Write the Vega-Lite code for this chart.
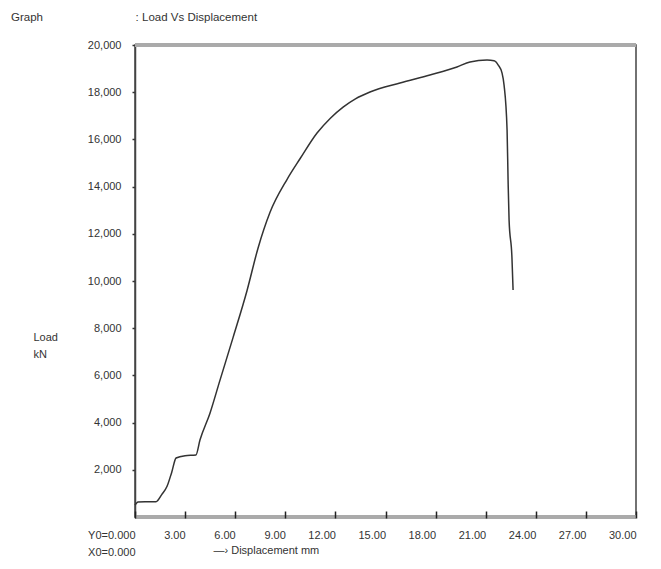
{
  "$schema": "https://vega.github.io/schema/vega-lite/v6.json",
  "autosize": "none",
  "width": 501,
  "height": 472,
  "padding": {"left": 135, "top": 45, "right": 25, "bottom": 52},
  "background": "white",
  "title": {
    "text": "Graph\u00a0\u00a0\u00a0\u00a0\u00a0\u00a0\u00a0\u00a0\u00a0\u00a0\u00a0\u00a0\u00a0\u00a0\u00a0\u00a0\u00a0\u00a0\u00a0\u00a0\u00a0\u00a0\u00a0\u00a0\u00a0\u00a0\u00a0\u00a0\u00a0: Load Vs Displacement",
    "anchor": "start",
    "frame": "group",
    "dx": -124,
    "offset": 16,
    "font": "Liberation Sans, sans-serif",
    "fontSize": 11.5,
    "fontWeight": "normal",
    "color": "#333"
  },
  "config": {
    "view": {"stroke": "#444", "strokeWidth": 1.5},
    "font": "Liberation Sans, sans-serif",
    "axis": {"grid": false, "labelFontSize": 11, "labelColor": "#333", "titleColor": "#333", "titleFontWeight": "normal", "titleFontSize": 11}
  },
  "data": {
    "values": [
      {"d": 0.0, "load": 500},
      {"d": 0.18, "load": 640},
      {"d": 0.6, "load": 650},
      {"d": 1.26, "load": 650},
      {"d": 1.6, "load": 950},
      {"d": 1.92, "load": 1300},
      {"d": 2.2, "load": 1900},
      {"d": 2.46, "load": 2500},
      {"d": 3.0, "load": 2600},
      {"d": 3.65, "load": 2630},
      {"d": 3.89, "load": 3260},
      {"d": 4.49, "load": 4400},
      {"d": 5.09, "load": 5800},
      {"d": 5.87, "load": 7600},
      {"d": 6.71, "load": 9600},
      {"d": 7.37, "load": 11400},
      {"d": 8.08, "load": 12900},
      {"d": 9.1, "load": 14300},
      {"d": 9.9, "load": 15200},
      {"d": 10.9, "load": 16270},
      {"d": 11.7, "load": 16900},
      {"d": 12.46, "load": 17370},
      {"d": 13.2, "load": 17720},
      {"d": 14.07, "load": 18010},
      {"d": 15.87, "load": 18390},
      {"d": 17.66, "load": 18730},
      {"d": 19.28, "load": 19070},
      {"d": 20.06, "load": 19280},
      {"d": 21.08, "load": 19360},
      {"d": 21.5, "load": 19330},
      {"d": 21.75, "load": 19150},
      {"d": 21.98, "load": 18810},
      {"d": 22.1, "load": 18300},
      {"d": 22.28, "load": 16400},
      {"d": 22.34, "load": 14280},
      {"d": 22.4, "load": 12580},
      {"d": 22.57, "load": 11020},
      {"d": 22.64, "load": 9620}
    ]
  },
  "datasets": {
    "borders": [{"v": 0}, {"v": 20000}]
  },
  "layer": [
    {
      "data": {"name": "borders"},
      "mark": {"type": "rule", "stroke": "#aaa", "strokeWidth": 4},
      "encoding": {"y": {"field": "v", "type": "quantitative", "scale": {"domain": [0, 20000], "nice": false, "zero": false}}}
    },
    {
      "mark": {"type": "line", "stroke": "#333", "strokeWidth": 1.5, "interpolate": "monotone"},
      "encoding": {
        "x": {
          "field": "d", "type": "quantitative",
          "scale": {"domain": [0, 30], "nice": false, "zero": false},
          "axis": {
            "values": [0, 3, 6, 9, 12, 15, 18, 21, 24, 27, 30],
            "labelExpr": "datum.value == 0 ? ['Y0=0.000', 'X0=0.000'] : format(datum.value, '.2f')",
            "labelAlign": "right",
            "labelOffset": 0,
            "labelLineHeight": 17,
            "labelBaseline": "middle",
            "labelPadding": 17,
            "offset": -6,
            "zindex": 1,
            "domain": false,
            "tickColor": "#222",
            "tickWidth": 1.5,
            "tickSize": 7,
            "title": "—› Displacement  mm",
            "titleAlign": "left",
            "titleX": 78,
            "titleY": 39,
            "titleBaseline": "middle"
          }
        },
        "y": {
          "field": "load", "type": "quantitative",
          "scale": {"domain": [0, 20000], "nice": false, "zero": false},
          "axis": {
            "values": [2000, 4000, 6000, 8000, 10000, 12000, 14000, 16000, 18000, 20000],
            "format": ",d",
            "labelPadding": 11,
            "domainColor": "#444",
            "domainWidth": 1.5,
            "tickColor": "#333",
            "tickSize": 3,
            "tickWidth": 1.5,
            "title": ["Load", "kN"],
            "titleAngle": 0,
            "titleAlign": "left",
            "titleBaseline": "middle",
            "titleX": -102,
            "titleY": 292,
            "titleLineHeight": 17
          }
        }
      }
    }
  ]
}
